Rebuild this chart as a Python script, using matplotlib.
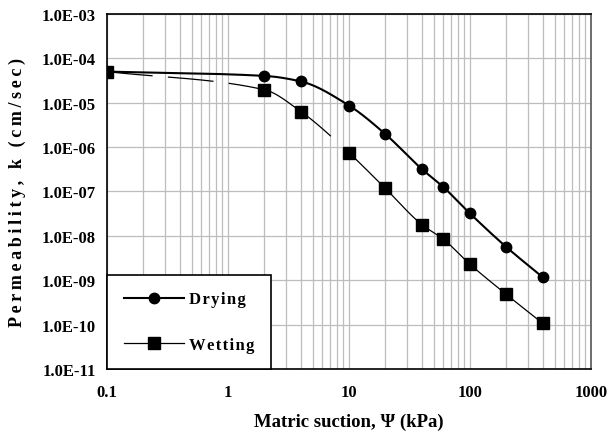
import numpy as np
import matplotlib.pyplot as plt
from matplotlib.lines import Line2D
from matplotlib.ticker import FixedLocator, LogLocator, NullFormatter

plt.rcParams['font.family'] = ['Liberation Serif', 'DejaVu Serif']
plt.rcParams['font.weight'] = 'bold'
plt.rcParams['lines.scale_dashes'] = False

# matric suction (kPa) and measured permeability (cm/sec)
suction = [0.1, 2, 4, 10, 20, 40, 60, 100, 200, 400]
k_drying = [5.0e-5, 4.0e-5, 3.0e-5, 8.6e-6, 1.95e-6, 3.2e-7, 1.27e-7, 3.2e-8, 5.6e-9, 1.17e-9]
k_wetting = [5.0e-5, 1.95e-5, 6.3e-6, 7.4e-7, 1.17e-7, 1.8e-8, 8.5e-9, 2.3e-9, 4.8e-10, 1.07e-10]

x_ticks = [0.1, 1, 10, 100, 1000]
x_tick_labels = ['0.1', '1', '10', '100', '1000']
y_ticks = [1e-11, 1e-10, 1e-9, 1e-8, 1e-7, 1e-6, 1e-5, 1e-4, 1e-3]


def spaced(s, gap='\u2009'):
    # widen the tracking of a label
    return gap.join(s)


# monotone cubic (PCHIP) through the points in log-log space
def smooth(x, y, n=400):
    lx, ly = np.log10(x), np.log10(y)
    h = np.diff(lx)
    d = np.diff(ly) / h
    m = np.zeros(len(lx))
    m[0], m[-1] = d[0], d[-1]
    for i in range(1, len(lx) - 1):
        if d[i - 1] * d[i] > 0:
            w1 = 2 * h[i] + h[i - 1]
            w2 = h[i] + 2 * h[i - 1]
            m[i] = (w1 + w2) / (w1 / d[i - 1] + w2 / d[i])
    xs = np.linspace(lx[0], lx[-1], n)
    idx = np.clip(np.searchsorted(lx, xs) - 1, 0, len(h) - 1)
    t = (xs - lx[idx]) / h[idx]
    h00 = 2 * t**3 - 3 * t**2 + 1
    h10 = t**3 - 2 * t**2 + t
    h01 = -2 * t**3 + 3 * t**2
    h11 = t**3 - t**2
    ys = (h00 * ly[idx] + h10 * h[idx] * m[idx]
          + h01 * ly[idx + 1] + h11 * h[idx] * m[idx + 1])
    return 10**xs, 10**ys


fig = plt.figure(figsize=(6.08, 4.35), dpi=100)
ax = fig.add_axes([0.176, 0.149, 0.796, 0.817])

# drying curve
sx, sy = smooth(suction, k_drying)
ax.plot(sx, sy, color='black', lw=1.5, zorder=3)
ax.plot(suction, k_drying, 'o', color='black', ms=7.5, zorder=4)

# wetting curve: dashed at low suction, then solid
wx, wy = smooth(suction, k_wetting)
low = wx <= 2.0001
mid = (wx >= 2) & (wx <= 10.001)
high = wx >= 10
ax.plot(wx[low], wy[low], color='black', lw=0.9, dashes=(33, 11), zorder=3)
ax.plot(wx[mid], wy[mid], color='black', lw=0.9, dashes=(58, 40), zorder=3)
ax.plot(wx[high], wy[high], color='black', lw=0.9, zorder=3)
ax.plot(suction, k_wetting, 's', color='black', ms=8, zorder=4)

ax.set_xscale('log')
ax.set_yscale('log')
ax.set_xlim(0.1, 1000)
ax.set_ylim(1e-11, 1e-3)

ax.xaxis.set_major_locator(FixedLocator(x_ticks))
ax.set_xticklabels(x_tick_labels)
ax.xaxis.set_minor_locator(LogLocator(base=10, subs=np.arange(2, 10)))
ax.xaxis.set_minor_formatter(NullFormatter())
ax.yaxis.set_major_locator(FixedLocator(y_ticks))
ax.set_yticklabels([f'{v:.1E}' for v in y_ticks])
ax.yaxis.set_minor_locator(FixedLocator([]))

ax.tick_params(which='both', length=0, labelsize=12)
ax.tick_params(axis='x', pad=11)
ax.tick_params(axis='y', pad=8)

ax.grid(True, which='major', axis='both', color='#bdbdbd', lw=0.9)
ax.grid(True, which='minor', axis='x', color='#bdbdbd', lw=0.9)
ax.set_axisbelow(True)

for side in ['left', 'bottom', 'top']:
    ax.spines[side].set_color('black')
    ax.spines[side].set_linewidth(1.2)
ax.spines['right'].set_color('#555555')
ax.spines['right'].set_linewidth(1.2)

ax.set_xlabel('Matric suction, \u03a8 (kPa)', fontsize=13.5, fontweight='bold')
ax.set_ylabel(spaced('Permeability, k (cm/sec)'), fontsize=13, fontweight='bold')
ax.xaxis.set_label_coords(0.5, -0.122)
ax.yaxis.set_label_coords(-0.167, 0.5)

handles = [
    Line2D([], [], color='black', lw=1.5, marker='o', ms=7.5),
    Line2D([], [], color='black', lw=0.9, marker='s', ms=8),
]
leg = ax.legend(handles, [spaced('Drying', '\u200a'), spaced('Wetting', '\u200a')],
                loc='lower left', bbox_to_anchor=(0, 0), borderaxespad=0,
                fancybox=False, framealpha=1, edgecolor='black',
                handlelength=3.6, handletextpad=0.3, borderpad=1.0,
                labelspacing=1.75, prop={'size': 12, 'weight': 'bold'})
leg.get_frame().set_linewidth(1.2)
leg.set_zorder(5)

fig.savefig('out.png', dpi=100)
